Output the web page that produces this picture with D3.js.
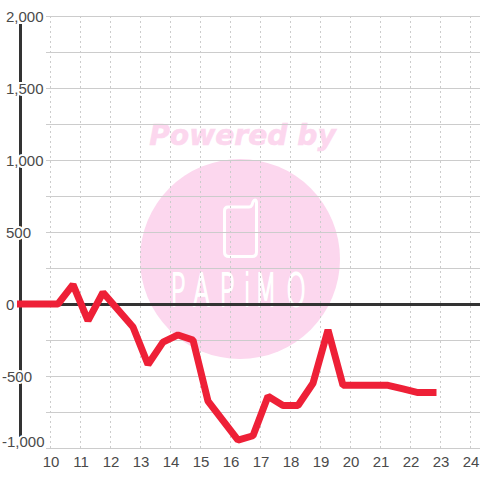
<!DOCTYPE html>
<html><head><meta charset="utf-8">
<script src="https://cdnjs.cloudflare.com/ajax/libs/d3/7.8.5/d3.min.js"></script>
<style>html,body{margin:0;padding:0;background:#fff}svg{display:block}text{font-family:"Liberation Sans",sans-serif}</style>
</head><body><svg id="c" width="480" height="480"></svg>
<script>
const xTicks=[10,11,12,13,14,15,16,17,18,19,20,21,22,23,24];
const yMajor=[2000,1500,1000,500,0,-500,-1000];
const yGrid=[2000,1750,1500,1250,1000,750,500,250,-250,-500,-750,-1000];
const hours=[9,10.25,10.75,11.25,11.75,12.25,12.75,13.25,13.75,14.25,14.75,15.25,15.75,16.25,16.75,17.25,17.75,18.25,18.75,19.25,19.75,20.25,20.75,21.25,21.75,22.25,22.75];
const values=[0,0,135,-115,80,-40,-160,-420,-265,-215,-250,-675,-810,-945,-915,-640,-705,-705,-550,-180,-565,-565,-565,-565,-590,-615,-615];
const logoLetters=["P","A","P","i","M","O"];
const logoX=[136.5,154.4,175.6,195,204,229];
const svg=d3.select("#c");
const x=d3.scaleLinear().domain([10,24]).range([50.5,470.5]);
const y=d3.scaleLinear().domain([-1000,2000]).range([448.5,16.5]);
const logo=svg.append("g");
logo.append("circle").attr("cx",240).attr("cy",259).attr("r",100).attr("fill","#fcd7ee");
logo.append("text").attr("x",242.5).attr("y",145).attr("text-anchor","middle").attr("font-size",28.2).attr("font-weight","bold").attr("font-style","italic").attr("fill","#fcd7ee").attr("stroke","#fcd7ee").attr("stroke-width",.6).style("font-family","'DejaVu Sans'").text("Powered by");
logo.append("path").attr("d","M228 207H249Q251 207 252 205L253 202Q254 200 255 200Q256.5 200 256.5 203V252Q256.5 256.5 252 256.5H229Q224.5 256.5 224.5 252V211Q224.5 207 228 207Z").attr("fill","none").attr("stroke","#fff").attr("stroke-width",3);
logo.append("text").attr("transform","translate(0,306) scale(1.25,2.2)").attr("font-size",20).attr("fill","#fff").attr("stroke","#fff").attr("stroke-width",.9).style("font-family","'DejaVu Sans'").style("font-weight",200)
  .selectAll("tspan").data(logoLetters).join("tspan").attr("x",(d,i)=>logoX[i]).attr("y",0).text(d=>d);
const grid=svg.append("g");
grid.selectAll("line.h").data(yGrid).join("line").attr("class","h").attr("x1",46).attr("x2",480).attr("y1",d=>y(d)).attr("y2",d=>y(d)).attr("stroke","#ccc").attr("stroke-width",1);
grid.selectAll("line.v").data(xTicks).join("line").attr("class","v").attr("x1",d=>x(d)).attr("x2",d=>x(d)).attr("y1",16).attr("y2",448).attr("stroke","#ccc").attr("stroke-width",1).attr("stroke-dasharray","2,3");
svg.append("line").attr("x1",x(9)).attr("x2",x(9)).attr("y1",24).attr("y2",437).attr("stroke","#333").attr("stroke-width",3);
svg.append("line").attr("x1",20).attr("x2",480).attr("y1",y(0)).attr("y2",y(0)).attr("stroke","#333").attr("stroke-width",3);
const labelY=d=>d===-1000?y(d)-6.5:y(d);
const labelX=d=>d<0?2:6;
svg.append("g").selectAll("text").data(yMajor).join("text").attr("x",labelX).attr("y",labelY).attr("dy","0.36em").attr("text-anchor","start").attr("font-size",15).attr("fill","#4a4a4a").attr("stroke","#fff").attr("stroke-width",4).attr("paint-order","stroke").text(d=>d3.format(",")(d).replace("−","-"));
svg.append("g").selectAll("text").data(xTicks).join("text").attr("x",d=>x(d)+.5).attr("y",467).attr("text-anchor","middle").attr("font-size",15).attr("fill","#4a4a4a").text(d=>d);
const line=d3.line().x((d,i)=>x(hours[i])).y(d=>y(d));
svg.append("path").datum(values).attr("d",line).attr("transform","translate(0,-0.5)").attr("fill","none").attr("stroke","#ee2037").attr("stroke-width",7).attr("stroke-linejoin","bevel").attr("stroke-linecap","square");
</script></body></html>
